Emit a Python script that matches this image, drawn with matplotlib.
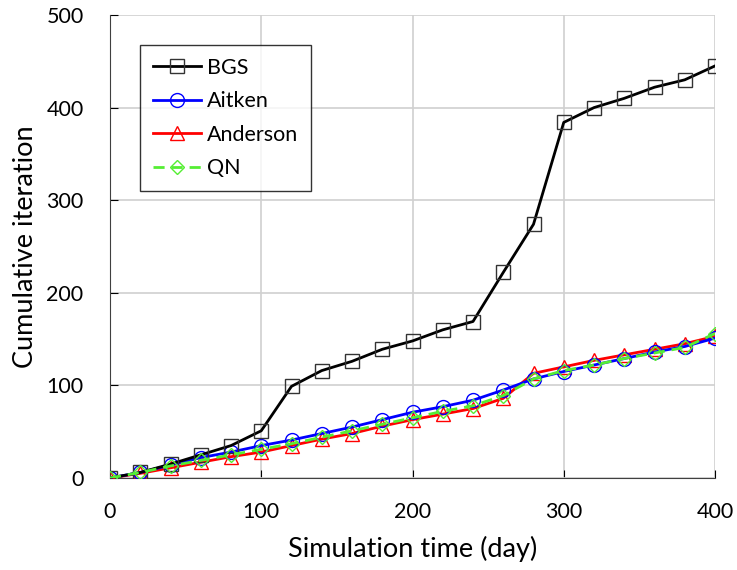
import numpy as np
import matplotlib.pyplot as plt

plt.rcParams['font.family'] = ['Lato', 'DejaVu Sans']

days = [0, 20, 40, 60, 80, 100, 120, 140, 160, 180, 200,
        220, 240, 260, 280, 300, 320, 340, 360, 380, 400]
bgs = [0, 6, 15, 25, 35, 51, 99, 116, 126, 139, 148,
       160, 169, 222, 274, 384, 400, 410, 422, 430, 445]
aitken = [0, 6, 14, 22, 28, 35, 41, 48, 55, 63, 71,
          77, 84, 95, 107, 115, 122, 129, 136, 142, 151]
anderson = [0, 5, 11, 17, 23, 28, 35, 42, 48, 56, 63,
            69, 75, 86, 113, 120, 127, 133, 139, 145, 153]
qn = [0, 6, 13, 19, 25, 31, 37, 44, 51, 58, 65,
      72, 78, 89, 107, 116, 122, 129, 135, 141, 156]

fig = plt.figure(figsize=(7.37, 5.70), dpi=100)
ax = fig.add_axes([110/737, 1-478/570, 605/737, 463/570])

ms = 10
ax.plot(days, bgs, c='black', lw=2, marker='s', ms=ms, mfc='none', mec='#333333', label='BGS', zorder=5)
ax.plot(days, aitken, c='blue', lw=2, marker='o', ms=ms, mfc='none', mec='blue', label='Aitken', zorder=4)
ax.plot(days, anderson, c='red', lw=2, marker='^', ms=ms, mfc='none', mec='red', label='Anderson', zorder=3)
ax.plot(days, qn, c='#55ee33', lw=2, ls=(0, (4, 2.5)), marker='D', ms=7.5, mfc='none', mec='#55ee33', label='QN', zorder=6)

ax.set_xlim(0, 400)
ax.set_ylim(0, 500)
ax.set_xticks([0, 100, 200, 300, 400])
ax.set_yticks([0, 100, 200, 300, 400, 500])
ax.grid(True, color='#d0d0d0', lw=1.2)
ax.set_axisbelow(True)
for s in ['top', 'right']:
    ax.spines[s].set_visible(False)
ax.spines['left'].set_color('#404040')
ax.spines['bottom'].set_color('#404040')
ax.tick_params(direction='in', length=6, labelsize=15.5)
ax.tick_params(axis='x', pad=17)
ax.tick_params(axis='y', pad=19)

ax.set_xlabel('Simulation time (day)', fontsize=19.5, labelpad=10)
ax.set_ylabel('Cumulative iteration', fontsize=19.5, labelpad=6)

leg = ax.legend(loc='upper left', bbox_to_anchor=(0.05, 0.935), fontsize=15.5,
                frameon=True, fancybox=False, edgecolor='black', borderaxespad=0,
                handlelength=2.2, handletextpad=0.3, labelspacing=0.62, borderpad=0.6)
leg.get_frame().set_linewidth(1)

fig.savefig('out.png', dpi=100)
